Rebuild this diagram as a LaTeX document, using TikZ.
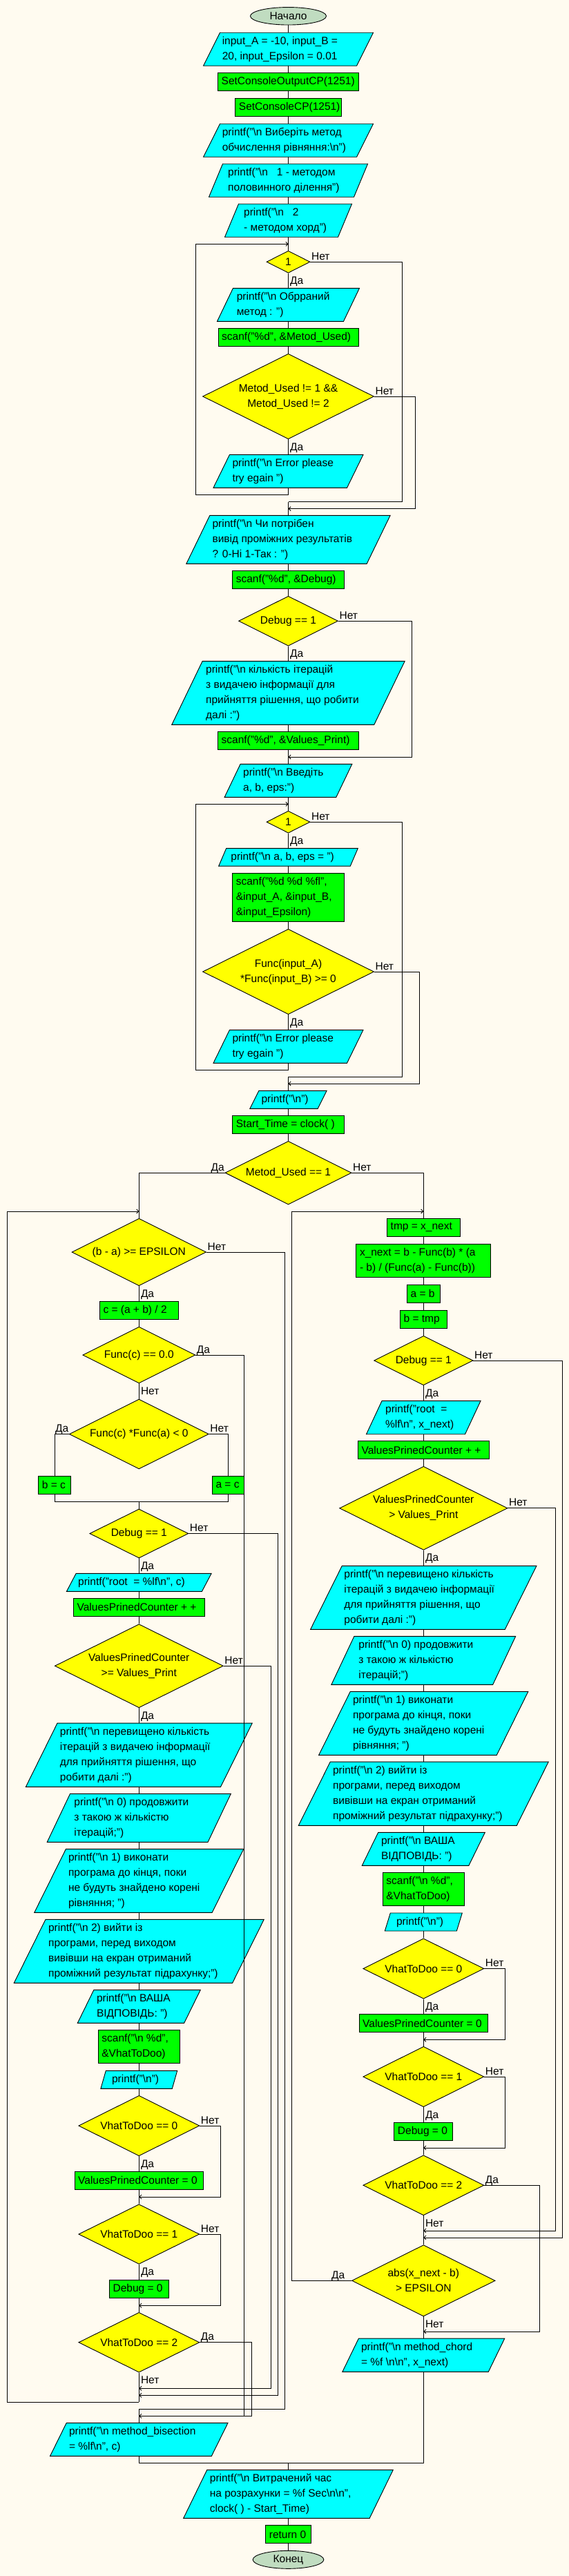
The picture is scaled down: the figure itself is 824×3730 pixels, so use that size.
\documentclass[tikz,border=0pt]{standalone}
\usepackage{fontspec}
\setmainfont{Liberation Sans}
\usetikzlibrary{shapes.geometric,arrows.meta}
\definecolor{bgcol}{RGB}{255,251,240}
\definecolor{iocyan}{RGB}{0,255,255}
\definecolor{procgreen}{RGB}{0,255,0}
\definecolor{decyellow}{RGB}{255,255,0}
\definecolor{termgreen}{RGB}{192,220,192}
\newcommand\bsl{\textbackslash}
\def\colM{417.5}
\def\colL{201.3}
\def\colR{613.3}
\tikzset{
  base/.style={draw=black, line width=0.9pt},
  procshape/.style={base, fill=procgreen, rectangle, inner sep=0pt},
  decshape/.style={base, fill=decyellow, diamond, inner sep=0pt},
  termshape/.style={base, fill=termgreen, ellipse, inner sep=0pt},
  ioframe/.style={rectangle, inner sep=0pt, outer sep=0pt, draw=none},
  txt/.style={inner sep=0pt, align=left},
  ctxt/.style={inner sep=0pt, align=center},
  lblE/.style={inner sep=0pt, anchor=base west, xshift=1.5pt, yshift=3pt},
  lblW/.style={inner sep=0pt, anchor=base east, xshift=-0.5pt, yshift=3pt},
  lblS/.style={inner sep=0pt, anchor=base west, xshift=2.5pt, yshift=-16pt},
  conn/.style={line width=0.9pt},
  arr/.style={line width=0.9pt, -{Straight Barb[length=3pt,width=6pt]}},
}
% name cx cy W H text
\newcommand\procbox[6]{%
  \node[procshape, minimum width=#4, minimum height=#5] (#1) at (#2,#3) {};
  \node[txt, anchor=west] (#1-t) at (#2-#4/2+5,#3) {#6};}
% name cx cy W H text
\newcommand\decbox[6]{%
  \node[decshape, minimum width=#4, minimum height=#5] (#1) at (#2,#3) {};
  \node[ctxt] (#1-t) at (#2,#3) {#6};}
% name cx cy W H slant textleft text
\newcommand\iobox[8]{%
  \node[ioframe, minimum width=#4, minimum height=#5] (#1) at (#2,#3) {};
  \filldraw[base, fill=iocyan] ([xshift=#6/2]#1.north west) -- ([xshift=#6/2]#1.north east)
     -- ([xshift=-#6/2]#1.south east) -- ([xshift=-#6/2]#1.south west) -- cycle;
  \node[txt, anchor=west] (#1-t) at (#7,#3) {#8};}
\begin{document}
\begin{tikzpicture}[x=1pt,y=-1pt,font=\fontsize{15.5}{22}\selectfont]
\fill[bgcol] (0,0) rectangle (824,3730);
\useasboundingbox (0,0) rectangle (824,3730);

% ---------------- main column ----------------
\node[termshape, minimum width=110, minimum height=25.5] (start) at (\colM,23.3) {Начало};
\iobox{inA}{\colM}{71.3}{222}{48}{24}{321.6}{input\_A = -10, input\_B =\\20, input\_Epsilon = 0.01}
\procbox{p1}{\colM}{118.3}{204}{26}{SetConsoleOutputCP(1251)}
\procbox{p2}{\colM}{155.3}{153.5}{26}{SetConsoleCP(1251)}
\iobox{o1}{\colM}{203.3}{222}{48}{24}{321.6}{printf("\bsl n Виберіть метод\\обчислення рівняння:\bsl n")}
\iobox{o2}{\colM}{261.3}{210}{48}{20}{330}{printf("\bsl n\ \ \ 1 - методом\\половинного ділення")}
\iobox{o3}{\colM}{319.3}{164}{48}{20}{353}{printf("\bsl n\ \ \ 2\\- методом хорд")}
\coordinate (m1) at (\colM,353.3);
\decbox{d1}{\colM}{379.2}{63}{32}{1}
\iobox{o4}{\colM}{441.3}{183}{48}{23}{342.6}{printf("\bsl n Обрраний\\метод : ")}
\procbox{p3}{\colM}{488.5}{203}{26.4}{scanf("\%d", \&Metod\_Used)}
\decbox{d2}{\colM}{574}{248}{123.4}{Metod\_Used != 1 \&\&\\Metod\_Used != 2}
\iobox{o5}{\colM}{682.3}{193.5}{48}{23.5}{336.3}{printf("\bsl n Error please\\try egain ")}
\coordinate (m2) at (\colM,726.7);
\coordinate (m3) at (\colM,736.7);
\iobox{o6}{\colM}{781.3}{261.3}{70}{34}{307.4}{printf("\bsl n Чи потрібен\\вивід проміжних результатів\\? 0-Ні 1-Так : ")}
\procbox{p4}{\colM}{839.5}{161.7}{26.4}{scanf("\%d", \&Debug)}
\decbox{d3}{\colM}{899.2}{144}{72}{Debug == 1}
\iobox{o7}{\colM}{1003.3}{293}{92}{44.4}{298}{printf("\bsl n кількість ітерацій\\з видачею інформації для\\прийняття рішення, що робити\\далі :")}
\procbox{p5}{\colM}{1072.5}{204}{26.4}{scanf("\%d", \&Values\_Print)}
\coordinate (m4) at (\colM,1096);
\iobox{o8}{\colM}{1130.3}{161.7}{48}{23}{352}{printf("\bsl n Введіть\\a, b, eps:")}
\coordinate (m5) at (\colM,1164.3);
\decbox{d4}{\colM}{1190.2}{63}{32}{1}
\iobox{o9}{\colM}{1241.2}{190.6}{25.7}{11}{334.2}{printf("\bsl n a, b, eps = ")}
\procbox{p6}{\colM}{1299.5}{161.7}{70.4}{scanf("\%d \%d \%fl",\\\&input\_A, \&input\_B,\\\&input\_Epsilon)}
\decbox{d5}{\colM}{1407}{248}{123.4}{Func(input\_A)\\*Func(input\_B) >= 0}
\iobox{o10}{\colM}{1515.3}{193.5}{48}{23.5}{336.3}{printf("\bsl n Error please\\try egain ")}
\coordinate (m6) at (\colM,1559.3);
\coordinate (m7) at (\colM,1569);
\iobox{o11}{\colM}{1592.3}{98.3}{26}{13}{378.4}{printf("\bsl n")}
\procbox{p7}{\colM}{1628.5}{161.7}{26.4}{Start\_Time = clock( )}
\decbox{d6}{\colM}{1698.2}{183}{91.7}{Metod\_Used == 1}

% ---------------- left column ----------------
\coordinate (lj0) at (\colL,1754);
\decbox{d7}{\colL}{1813}{194.5}{97.4}{(b - a) >= EPSILON}
\procbox{p8}{\colL}{1897.5}{114}{26.4}{c = (a + b) / 2}
\decbox{d8}{\colL}{1962}{163}{81.7}{Func(c) == 0.0}
\decbox{d9}{\colL}{2076.5}{202}{101}{Func(c) *Func(a) < 0}
\procbox{p9}{79.1}{2150.3}{46.8}{26}{b = c}
\procbox{p10}{330.5}{2150.3}{46.3}{26}{a = c}
\coordinate (lj1) at (\colL,2174);
\decbox{d10}{\colL}{2220.5}{143}{71}{Debug == 1}
\iobox{o12}{\colL}{2291.3}{196}{26}{13.7}{113}{printf("root\ \ = \%lf\bsl n", c)}
\procbox{p11}{\colL}{2327.3}{189.7}{26}{ValuesPrinedCounter + +}
\decbox{d11}{\colL}{2412.2}{244}{121}{ValuesPrinedCounter\\>= Values\_Print}
\iobox{o13}{\colL}{2541.2}{282.2}{92.3}{45.7}{86.7}{printf("\bsl n перевищено кількість\\ітерацій з видачею інформації\\для прийняття рішення, що\\робити далі :")}
\iobox{o14}{\colL}{2632.3}{232.8}{70}{33.3}{107.2}{printf("\bsl n 0) продовжити\\з такою ж кількістю\\ітерацій;")}
\iobox{o15}{\colL}{2723.3}{257.4}{92}{45.7}{98.8}{printf("\bsl n 1) виконати\\програма до кінця, поки\\не будуть знайдено корені\\рівняння; ")}
\iobox{o16}{\colL}{2825.3}{316.3}{92}{45.7}{69.9}{printf("\bsl n 2) вийти із\\програми, перед виходом\\вивівши на екран отриманий\\проміжний результат підрахунку;")}
\iobox{o17}{\colL}{2905.3}{154.4}{48}{23.6}{139.8}{printf("\bsl n ВАША\\ВІДПОВІДЬ: ")}
\procbox{p12}{\colL}{2963.3}{118.2}{48}{scanf("\bsl n \%d",\\\&VhatToDoo)}
\iobox{o18}{\colL}{3011.3}{103.4}{26}{7.4}{161.9}{printf("\bsl n")}
\decbox{d12}{\colL}{3078}{175}{87.4}{VhatToDoo == 0}
\procbox{p13}{\colL}{3157.3}{186.6}{26}{ValuesPrinedCounter = 0}
\coordinate (lj2) at (\colL,3181);
\decbox{d13}{\colL}{3235}{175}{86.6}{VhatToDoo == 1}
\procbox{p14}{\colL}{3314.3}{85.7}{26}{Debug = 0}
\coordinate (lj3) at (\colL,3338.3);
\decbox{d14}{\colL}{3391.7}{175}{86.7}{VhatToDoo == 2}
\coordinate (lj4) at (\colL,3458.3);
\coordinate (lj5) at (\colL,3468.3);
\coordinate (lj6) at (\colL,3478.3);
\coordinate (lj7) at (\colL,3488.3);
\coordinate (lj8) at (\colL,3498.3);
\iobox{o19}{\colL}{3532.3}{233.8}{48}{23.7}{99.8}{printf("\bsl n method\_bisection\\= \%lf\bsl n", c)}
\coordinate (mj) at (\colM,3566);

% ---------------- right column ----------------
\coordinate (rj0) at (\colR,1754);
\procbox{p15}{\colR}{1777.3}{105.6}{26}{tmp = x\_next}
\procbox{p16}{\colR}{1825.3}{195}{48}{x\_next = b - Func(b) * (a\\- b) / (Func(a) - Func(b))}
\procbox{p17}{\colR}{1873.3}{47.8}{26.7}{a = b}
\procbox{p18}{\colR}{1910.3}{67.8}{26}{b = tmp}
\decbox{d15}{\colR}{1970}{143.4}{71.4}{Debug == 1}
\iobox{o20}{\colR}{2052.5}{143}{48.4}{22.6}{558}{printf("root\ \ =\\\%lf\bsl n", x\_next)}
\procbox{p19}{\colR}{2099.7}{189.7}{26}{ValuesPrinedCounter + +}
\decbox{d16}{\colR}{2183.8}{243.3}{121}{ValuesPrinedCounter\\> Values\_Print}
\iobox{o21}{\colR}{2313.3}{281.7}{92}{45.7}{498.2}{printf("\bsl n перевищено кількість\\ітерацій з видачею інформації\\для прийняття рішення, що\\робити далі :")}
\iobox{o22}{\colR}{2404.3}{233.8}{70}{33}{519.2}{printf("\bsl n 0) продовжити\\з такою ж кількістю\\ітерацій;")}
\iobox{o23}{\colR}{2495.3}{257.6}{92}{45.6}{510.8}{printf("\bsl n 1) виконати\\програма до кінця, поки\\не будуть знайдено корені\\рівняння; ")}
\iobox{o24}{\colR}{2597.2}{316}{92.3}{46}{481.9}{printf("\bsl n 2) вийти із\\програми, перед виходом\\вивівши на екран отриманий\\проміжний результат підрахунку;")}
\iobox{o25}{\colR}{2677.3}{154.6}{48}{23.5}{551.8}{printf("\bsl n ВАША\\ВІДПОВІДЬ: ")}
\procbox{p20}{\colR}{2735.3}{118.2}{48}{scanf("\bsl n \%d",\\\&VhatToDoo)}
\iobox{o26}{\colR}{2783}{104}{26}{8}{573.9}{printf("\bsl n")}
\decbox{d17}{\colR}{2850.5}{175}{87.3}{VhatToDoo == 0}
\procbox{p21}{\colR}{2929.5}{186.6}{25.6}{ValuesPrinedCounter = 0}
\coordinate (rj1) at (\colR,2953.3);
\decbox{d18}{\colR}{3007}{175}{87.4}{VhatToDoo == 1}
\procbox{p22}{\colR}{3086.5}{85.1}{25.6}{Debug = 0}
\coordinate (rj2) at (\colR,3110);
\decbox{d19}{\colR}{3164.2}{175}{87}{VhatToDoo == 2}
\coordinate (rj3) at (\colR,3230);
\coordinate (rj4) at (\colR,3240);
\decbox{d20}{\colR}{3302.3}{207.6}{103.3}{abs(x\_next - b)\\> EPSILON}
\coordinate (rj5) at (\colR,3376);
\iobox{o27}{\colR}{3410.2}{211.4}{48.3}{23.5}{522.9}{printf("\bsl n method\_chord\\= \%f \bsl n\bsl n", x\_next)}

% ---------------- end ----------------
\iobox{o28}{\colM}{3611.3}{269.5}{70}{34.1}{303.7}{printf("\bsl n Витрачений час\\на розрахунки = \%f Sec\bsl n\bsl n",\\clock( ) - Start\_Time)}
\procbox{p23}{\colM}{3669.7}{65.7}{26}{return 0}
\node[termshape, minimum width=102.7, minimum height=26] (end) at (\colM,3706.3) {Конец};

% ---------------- connectors: main ----------------
\draw[conn] (start.south) -- (inA.north);
\draw[conn] (inA.south) -- (p1.north);
\draw[conn] (p1.south) -- (p2.north);
\draw[conn] (p2.south) -- (o1.north);
\draw[conn] (o1.south) -- (o2.north);
\draw[conn] (o2.south) -- (o3.north);
\draw[conn] (o3.south) -- (d1.north);
\draw[conn] (d1.south) -- (o4.north);
\draw[conn] (o4.south) -- (p3.north);
\draw[conn] (p3.south) -- (d2.north);
\draw[conn] (d2.south) -- (o5.north);
\draw[arr] (o5.south) |- (283.8,716.7) |- (m1);
\draw[conn] (d1.east) -| (582,726.7) -- (m2);
\draw[arr] (d2.east) -| (601.7,736.7) -- (m3);
\draw[conn] (m2) -- (o6.north);
\draw[conn] (o6.south) -- (p4.north);
\draw[conn] (p4.south) -- (d3.north);
\draw[conn] (d3.south) -- (o7.north);
\draw[conn] (o7.south) -- (p5.north);
\draw[conn] (p5.south) -- (o8.north);
\draw[arr] (d3.east) -| (596.5,1096) -- (m4);
\draw[conn] (o8.south) -- (d4.north);
\draw[conn] (d4.south) -- (o9.north);
\draw[conn] (o9.south) -- (p6.north);
\draw[conn] (p6.south) -- (d5.north);
\draw[conn] (d5.south) -- (o10.north);
\draw[arr] (o10.south) |- (283.8,1549.3) |- (m5);
\draw[conn] (d4.east) -| (582,1559.3) -- (m6);
\draw[arr] (d5.east) -| (607,1569) -- (m7);
\draw[conn] (m6) -- (o11.north);
\draw[conn] (o11.south) -- (p7.north);
\draw[conn] (p7.south) -- (d6.north);
\draw[conn] (d6.west) -| (d7.north);
\draw[conn] (d6.east) -| (p15.north);

% ---------------- connectors: left ----------------
\draw[conn] (d7.south) -- (p8.north);
\draw[conn] (p8.south) -- (d8.north);
\draw[conn] (d8.south) -- (d9.north);
\draw[conn] (d9.west) -| (p9.north);
\draw[conn] (d9.east) -| (p10.north);
\draw[conn] (p9.south) |- (lj1);
\draw[conn] (p10.south) |- (lj1);
\draw[conn] (lj1) -- (d10.north);
\draw[conn] (d10.south) -- (o12.north);
\draw[conn] (o12.south) -- (p11.north);
\draw[conn] (p11.south) -- (d11.north);
\draw[conn] (d11.south) -- (o13.north);
\draw[conn] (o13.south) -- (o14.north);
\draw[conn] (o14.south) -- (o15.north);
\draw[conn] (o15.south) -- (o16.north);
\draw[conn] (o16.south) -- (o17.north);
\draw[conn] (o17.south) -- (p12.north);
\draw[conn] (p12.south) -- (o18.north);
\draw[conn] (o18.south) -- (d12.north);
\draw[conn] (d12.south) -- (p13.north);
\draw[conn] (p13.south) -- (d13.north);
\draw[arr] (d12.east) -| (319.5,3181) -- (lj2);
\draw[conn] (d13.south) -- (p14.north);
\draw[conn] (p14.south) -- (d14.north);
\draw[arr] (d13.east) -| (319.5,3338.3) -- (lj3);
\draw[conn] (d14.south) -- (lj6);
\draw[arr] (lj6) -| (10.5,1754) -- (lj0);
\draw[conn] (lj0) -- (d7.north);
\draw[arr] (d11.east) -| (392.5,3458.3) -- (lj4);
\draw[arr] (d10.east) -| (402.5,3468.3) -- (lj5);
\draw[conn] (d7.east) -| (412.5,3488.3) -- (lj7);
\draw[conn] (lj7) -- (o19.north);
\draw[arr] (d14.east) -| (364.7,3498.3) -- (lj8);
\draw[conn] (d8.east) -| (353.7,3498.3);
\draw[conn] (o19.south) |- (mj);

% ---------------- connectors: right ----------------
\draw[conn] (p15.south) -- (p16.north);
\draw[conn] (p16.south) -- (p17.north);
\draw[conn] (p17.south) -- (p18.north);
\draw[conn] (p18.south) -- (d15.north);
\draw[conn] (d15.south) -- (o20.north);
\draw[conn] (o20.south) -- (p19.north);
\draw[conn] (p19.south) -- (d16.north);
\draw[conn] (d16.south) -- (o21.north);
\draw[conn] (o21.south) -- (o22.north);
\draw[conn] (o22.south) -- (o23.north);
\draw[conn] (o23.south) -- (o24.north);
\draw[conn] (o24.south) -- (o25.north);
\draw[conn] (o25.south) -- (p20.north);
\draw[conn] (p20.south) -- (o26.north);
\draw[conn] (o26.south) -- (d17.north);
\draw[conn] (d17.south) -- (p21.north);
\draw[conn] (p21.south) -- (d18.north);
\draw[conn] (d18.south) -- (p22.north);
\draw[conn] (p22.south) -- (d19.north);
\draw[conn] (d19.south) -- (d20.north);
\draw[conn] (d20.south) -- (o27.north);
\draw[arr] (d17.east) -| (731.5,2953.3) -- (rj1);
\draw[arr] (d18.east) -| (731.5,3110) -- (rj2);
\draw[arr] (d19.east) -| (781.4,3376) -- (rj5);
\draw[arr] (d16.east) -| (804,3230) -- (rj3);
\draw[arr] (d15.east) -| (814.5,3240) -- (rj4);
\draw[arr] (d20.west) -| (422.5,1754) -- (rj0);
\draw[conn] (o27.south) |- (mj);

% ---------------- end connectors ----------------
\draw[conn] (mj) -- (o28.north);
\draw[conn] (o28.south) -- (p23.north);
\draw[conn] (p23.south) -- (end.north);

% ---------------- labels ----------------
\node[lblE] (l1n) at (d1.east) {Нет};
\node[lblS] (l1y) at (d1.south) {Да};
\node[lblE] (l2n) at (d2.east) {Нет};
\node[lblS] (l2y) at (d2.south) {Да};
\node[lblE] (l3n) at (d3.east) {Нет};
\node[lblS] (l3y) at (d3.south) {Да};
\node[lblE] (l4n) at (d4.east) {Нет};
\node[lblS] (l4y) at (d4.south) {Да};
\node[lblE] (l5n) at (d5.east) {Нет};
\node[lblS] (l5y) at (d5.south) {Да};
\node[lblE] (l6n) at (d6.east) {Нет};
\node[lblW] (l6y) at (d6.west) {Да};
\node[lblE] (l7n) at (d7.east) {Нет};
\node[lblS] (l7y) at (d7.south) {Да};
\node[lblE] (l8y) at (d8.east) {Да};
\node[lblS] (l8n) at (d8.south) {Нет};
\node[lblW] (l9y) at (d9.west) {Да};
\node[lblE] (l9n) at (d9.east) {Нет};
\node[lblE] (l10n) at (d10.east) {Нет};
\node[lblS] (l10y) at (d10.south) {Да};
\node[lblE] (l11n) at (d11.east) {Нет};
\node[lblS] (l11y) at (d11.south) {Да};
\node[lblE] (l12n) at (d12.east) {Нет};
\node[lblS] (l12y) at (d12.south) {Да};
\node[lblE] (l13n) at (d13.east) {Нет};
\node[lblS] (l13y) at (d13.south) {Да};
\node[lblE] (l14y) at (d14.east) {Да};
\node[lblS] (l14n) at (d14.south) {Нет};
\node[lblE] (l15n) at (d15.east) {Нет};
\node[lblS] (l15y) at (d15.south) {Да};
\node[lblE] (l16n) at (d16.east) {Нет};
\node[lblS] (l16y) at (d16.south) {Да};
\node[lblE] (l17n) at (d17.east) {Нет};
\node[lblS] (l17y) at (d17.south) {Да};
\node[lblE] (l18n) at (d18.east) {Нет};
\node[lblS] (l18y) at (d18.south) {Да};
\node[lblE] (l19y) at (d19.east) {Да};
\node[lblS] (l19n) at (d19.south) {Нет};
\node[lblW, xshift=-9pt] (l20y) at (d20.west) {Да};
\node[lblS] (l20n) at (d20.south) {Нет};
\end{tikzpicture}
\end{document}
